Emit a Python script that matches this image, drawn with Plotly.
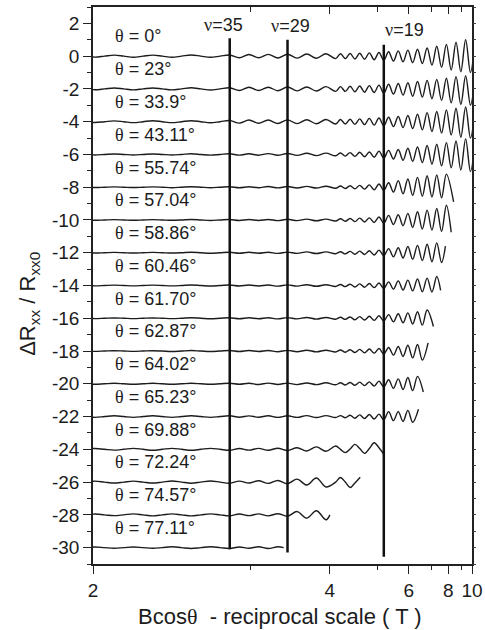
import plotly.graph_objects as go

# filling factor x Bcos(theta) in tesla (read from the nu = 35 / 29 / 19 markers)
NU_B = 98.4

THETA = ["0", "23", "33.9", "43.11", "55.74", "57.04", "58.86", "60.46",
         "61.70", "62.87", "64.02", "65.23", "69.88", "72.24", "74.57", "77.11"]
OFFSET = [0, -2, -4, -6, -8, -10, -12, -14, -16, -18, -20, -22, -24, -26, -28, -30]

# filling factors at which the curve extrema were read
NU_GRID = [50, 49, 48, 47, 46, 45, 44, 43, 42, 41, 40, 39, 38, 37, 36, 35,
           34, 33, 32, 31, 30, 29, 28, 27, 26, 25, 24,
           23.5, 23, 22.5, 22, 21.5, 21, 20.5, 20, 19.5, 19, 18.5, 18, 17.5, 17,
           16.5, 16, 15.5, 15, 14.5, 14, 13.5, 13, 12.5, 12, 11.5, 11, 10.5, 10, 9.5]

# deviation of dRxx/Rxx0 from each curve's offset, read at NU_GRID
DEV_0 = ([0, -0.06, 0, 0.06, 0, -0.07, 0, 0.06, 0, -0.07, 0, 0.07, 0, -0.07, 0, 0.07]
         + [-0.1, 0.1, -0.1, 0.11, -0.11, 0.12, -0.12, 0.13, -0.13, 0.15, -0.15]
         + [0.15, -0.15, 0.16, -0.17, 0.18, -0.19, 0.2, -0.22, 0.22, -0.25, 0.27, -0.3, 0.32, -0.35,
            0.37, -0.4, 0.42, -0.45, 0.5, -0.55, 0.6, -0.68, 0.72, -0.85, 0.85, -0.95, 1.0, -1.0, 1.2])
DEV_23 = ([0, -0.05, 0, 0.06, 0, -0.06, 0, 0.06, 0, -0.06, 0, 0.07, 0, -0.07, 0, 0.07]
          + [-0.1, 0.1, -0.1, 0.1, -0.11, 0.12, -0.12, 0.12, -0.13, 0.14, -0.15]
          + [0.14, -0.15, 0.16, -0.17, 0.18, -0.2, 0.2, -0.22, 0.23, -0.26, 0.28, -0.32, 0.33, -0.38,
             0.38, -0.45, 0.45, -0.5, 0.52, -0.6, 0.58, -0.7, 0.65, -0.85, 0.75, -0.95, 0.8, -1.0, 0.9])
DEV_33 = ([0, -0.05, 0, 0.05, 0, -0.06, 0, 0.06, 0, -0.06, 0, 0.06, 0, -0.07, 0, 0.07]
          + [-0.09, 0.1, -0.1, 0.1, -0.11, 0.11, -0.12, 0.12, -0.13, 0.13, -0.14]
          + [0.13, -0.14, 0.15, -0.16, 0.17, -0.18, 0.2, -0.21, 0.22, -0.25, 0.27, -0.3, 0.32, -0.36,
             0.38, -0.42, 0.45, -0.5, 0.55, -0.6, 0.62, -0.7, 0.72, -0.82, 0.82, -0.95, 0.9, -1.0, 1.0])
DEV_43 = ([0, -0.03, 0, 0.03, 0, -0.03, 0, 0.03, 0, -0.03, 0, 0.04, 0, -0.04, 0, 0.04]
          + [-0.04, 0.04, -0.05, 0.05, -0.05, 0.06, -0.06, 0.07, -0.07, 0.08, -0.08]
          + [0.09, -0.1, 0.11, -0.12, 0.13, -0.14, 0.15, -0.17, 0.2, -0.22, 0.25, -0.28, 0.3, -0.35,
             0.38, -0.42, 0.45, -0.5, 0.55, -0.6, 0.62, -0.7, 0.72, -0.82, 0.82, -0.95, 0.95, -1.05, 1.0])
DEV_55 = ([0, -0.02, 0, 0.02, 0, -0.02, 0, 0.02, 0, -0.03, 0, 0.03, 0, -0.03, 0, 0.03]
          + [-0.03, 0.03, -0.03, 0.04, -0.04, 0.04, -0.05, 0.05, -0.05, 0.06, -0.06]
          + [0.07, -0.08, 0.09, -0.1, 0.11, -0.12, 0.14, -0.16, 0.2, -0.2, 0.27, -0.3, 0.4, -0.4,
             0.5, -0.5, 0.6, -0.55, 0.7, -0.6, 0.75, -0.65, 0.8])
DEV_57 = ([0, -0.02, 0, 0.02, 0, -0.02, 0, 0.02, 0, -0.02, 0, 0.03, 0, -0.03, 0, 0.03]
          + [-0.03, 0.03, -0.03, 0.03, -0.04, 0.04, -0.04, 0.05, -0.05, 0.05, -0.06]
          + [0.07, -0.08, 0.09, -0.1, 0.11, -0.12, 0.13, -0.15, 0.18, -0.2, 0.28, -0.28, 0.32, -0.35,
             0.4, -0.45, 0.5, -0.55, 0.6, -0.62, 0.7, -0.7, 0.9, -0.75])
DEV_58 = ([0, -0.02, 0, 0.02, 0, -0.02, 0, 0.02, 0, -0.02, 0, 0.03, 0, -0.03, 0, 0.03]
          + [-0.03, 0.03, -0.03, 0.03, -0.04, 0.04, -0.04, 0.05, -0.05, 0.05, -0.06]
          + [0.06, -0.07, 0.08, -0.09, 0.1, -0.11, 0.12, -0.14, 0.16, -0.18, 0.25, -0.25, 0.3, -0.32,
             0.38, -0.4, 0.45, -0.48, 0.52, -0.55, 0.6, -0.6])
DEV_60 = ([0, -0.02, 0, 0.02, 0, -0.02, 0, 0.02, 0, -0.02, 0, 0.03, 0, -0.03, 0, 0.03]
          + [-0.03, 0.03, -0.03, 0.03, -0.04, 0.04, -0.04, 0.05, -0.05, 0.05, -0.06]
          + [0.06, -0.07, 0.08, -0.09, 0.1, -0.11, 0.12, -0.13, 0.15, -0.18, 0.22, -0.22, 0.28, -0.28,
             0.33, -0.33, 0.4, -0.38, 0.45, -0.4, 0.55])
DEV_61 = ([0, -0.02, 0, 0.02, 0, -0.02, 0, 0.02, 0, -0.02, 0, 0.03, 0, -0.03, 0, 0.03]
          + [-0.03, 0.03, -0.03, 0.03, -0.04, 0.04, -0.04, 0.05, -0.05, 0.05, -0.06]
          + [0.06, -0.07, 0.08, -0.09, 0.1, -0.11, 0.12, -0.13, 0.15, -0.17, 0.22, -0.22, 0.28, -0.28,
             0.33, -0.35, 0.4, -0.42, 0.5])
DEV_62 = ([0, -0.02, 0, 0.02, 0, -0.02, 0, 0.02, 0, -0.03, 0, 0.03, 0, -0.03, 0, 0.03]
          + [-0.03, 0.03, -0.03, 0.03, -0.04, 0.04, -0.04, 0.05, -0.05, 0.05, -0.06]
          + [0.06, -0.07, 0.08, -0.09, 0.1, -0.11, 0.12, -0.13, 0.15, -0.18, 0.22, -0.25, 0.28, -0.33,
             0.35, -0.42, 0.4, -0.55])
DEV_64 = ([0, -0.03, 0, 0.03, 0, -0.03, 0, 0.03, 0, -0.03, 0, 0.03, 0, -0.03, 0, 0.03]
          + [-0.03, 0.03, -0.04, 0.04, -0.04, 0.04, -0.05, 0.05, -0.05, 0.06, -0.06]
          + [0.06, -0.07, 0.08, -0.09, 0.1, -0.11, 0.12, -0.14, 0.16, -0.2, 0.25, -0.28, 0.3, -0.35,
             0.38, -0.42, 0.45])
DEV_65 = ([0, -0.05, 0, 0.05, 0, -0.05, 0, 0.05, 0, -0.05, 0, 0.05, 0, -0.05, 0, 0.05]
          + [-0.04, 0.04, -0.04, 0.05, -0.05, 0.05, -0.05, 0.06, -0.06, 0.06, -0.06]
          + [0.06, -0.07, 0.08, -0.1, 0.1, -0.12, 0.13, -0.15, 0.15, -0.2, 0.3, -0.25, 0.3, -0.3,
             0.38, -0.35])
DEV_69 = ([0, 0.05, 0, -0.05, 0, 0.06, 0, -0.06, 0, 0.06, 0, -0.06, 0, 0.06, 0, -0.06]
          + [0.05, -0.05, 0.06, -0.06, 0.07, -0.07, 0.1, -0.1, 0.15, -0.12, 0.2]
          + [0.0, -0.2, 0.02, 0.3, 0.05, -0.25, 0.05, 0.4, 0.1, -0.3])
DEV_72 = ([0, 0.06, 0, -0.06, 0, 0.06, 0, -0.06, 0, 0.07, 0, -0.07, 0, 0.07, 0, -0.07]
          + [0.06, -0.06, 0.08, -0.08, 0.1, -0.1, 0.18, -0.18, 0.25, -0.3, 0.0]
          + [0.28, 0.0, -0.33, -0.05])
DEV_74 = ([0, 0.05, 0, -0.05, 0, 0.06, 0, -0.06, 0, 0.06, 0, -0.06, 0, 0.06, 0, -0.06]
          + [0.05, -0.05, 0.06, -0.06, 0.07, -0.08, 0.2, -0.2, 0.25, -0.3])
DEV_77 = ([0, 0.04, 0, -0.04, 0, 0.04, 0, -0.04, 0, 0.05, 0, -0.05, 0, 0.05, 0, -0.05]
          + [0.04, -0.04, 0.05, -0.05, 0.05])

DEVS = [DEV_0, DEV_23, DEV_33, DEV_43, DEV_55, DEV_57, DEV_58, DEV_60,
        DEV_61, DEV_62, DEV_64, DEV_65, DEV_69, DEV_72, DEV_74, DEV_77]

# last point of each sweep (filling factor, deviation), None = runs past the axis
END_NU = [None, None, None, None, 11.75, None, 12.6, 13.1, 13.85, 14.4, 14.9, 15.4, None, 21.45, 24.6, 29.4]
END_DEV = [None, None, None, None, -0.9, None, 0.4, -0.3, -0.5, 0.5, -0.5, 0.45, None, 0.3, 0.0, 0.0]

NU_LINES = [35, 29, 19]

B_MAJOR = [2, 4, 6, 8, 10]
B_MINOR = [3, 5, 7, 9]
Y_TICKS = list(range(2, -31, -2))
Y_ALL = list(range(3, -32, -1))

FONT = "Liberation Sans, Arial, sans-serif"
SERIF = "Liberation Serif"
INK = "#1c1c1c"


def sym(ch):
    return "<span style='font-family:%s'>%s</span>" % (SERIF, ch)


fig = go.Figure()

for off, dev, enu, edev in zip(OFFSET, DEVS, END_NU, END_DEV):
    xs = NU_GRID[:len(dev)]
    ys = [off + d for d in dev]
    if enu is not None:
        xs = xs + [enu]
        ys = ys + [off + edev]
    fig.add_trace(go.Scatter(x=xs, y=ys, mode="lines",
                             line=dict(color=INK, width=1.4, shape="spline", smoothing=1.0),
                             showlegend=False, hoverinfo="skip"))

# helper traces so the top / right tick axes are drawn
fig.add_trace(go.Scatter(x=[], y=[], xaxis="x2", yaxis="y", showlegend=False, hoverinfo="skip"))
fig.add_trace(go.Scatter(x=[], y=[], xaxis="x", yaxis="y2", showlegend=False, hoverinfo="skip"))

# nu markers
line_top = [1.1, 1.0, 0.7]
line_bot = [-30.1, -30.3, -30.55]
lab_y = [1.9, 1.85, 1.6]
lab_shift = [-6, 3, -1]
lab_anchor = ["center", "center", "left"]
for nu, yt, yb, ly, sh, an in zip(NU_LINES, line_top, line_bot, lab_y, lab_shift, lab_anchor):
    fig.add_shape(type="line", xref="x", yref="y", x0=nu, x1=nu, y0=yb, y1=yt,
                  line=dict(color="#111111", width=2.5))
    fig.add_annotation(x=nu, y=ly, xref="x", yref="y", text=sym("ν") + "=%d" % nu,
                       showarrow=False, xanchor=an, yanchor="middle", xshift=sh,
                       font=dict(family=FONT, size=18, color=INK))

# angle labels
for th, off in zip(THETA, OFFSET):
    fig.add_annotation(x=0.053, y=off + 1.2, xref="paper", yref="y",
                       text=sym("θ") + " = " + th + "°", showarrow=False,
                       xanchor="left", yanchor="middle",
                       font=dict(family=FONT, size=18, color=INK))

# axis titles
fig.add_annotation(x=-0.169, y=0.467, xref="paper", yref="paper",
                   text="ΔR<sub>xx</sub> / R<sub>xx0</sub>", textangle=-90,
                   showarrow=False, xanchor="center", yanchor="middle",
                   font=dict(family=FONT, size=22, color=INK))
fig.add_annotation(x=0.493, y=-0.094, xref="paper", yref="paper",
                   text="Bcos" + sym("θ") + "\u00a0 - reciprocal scale ( T )",
                   showarrow=False, xanchor="center", yanchor="middle",
                   font=dict(family=FONT, size=22, color=INK))

xr = [NU_B / B_MAJOR[0], NU_B / B_MAJOR[-1]]
yr = [-31, 3]
major_x = [NU_B / b for b in B_MAJOR]
minor_x = [NU_B / b for b in B_MINOR]

fig.update_layout(
    template="none",
    width=485, height=630,
    margin=dict(l=93, r=13, t=7, b=66, autoexpand=False),
    paper_bgcolor="white", plot_bgcolor="white",
    font=dict(family=FONT, color=INK),
    xaxis=dict(range=xr, tickmode="array", tickvals=major_x, ticktext=[str(b) for b in B_MAJOR],
               ticks="outside", ticklen=8, tickwidth=1.3, tickcolor="#222", automargin=False,
               minor=dict(tickmode="array", tickvals=minor_x, ticks="outside", ticklen=4,
                          tickwidth=1.3, tickcolor="#222", showgrid=False),
               showline=True, linecolor="#222", linewidth=1.5, mirror=True,
               showgrid=False, zeroline=False, tickfont=dict(size=19, family=FONT, color=INK)),
    xaxis2=dict(range=xr, overlaying="x", side="top", anchor="y", tickmode="array",
                tickvals=major_x, ticks="inside", ticklen=7, tickwidth=1.3, tickcolor="#222",
                automargin=False,
                minor=dict(tickmode="array", tickvals=minor_x, ticks="inside", ticklen=5,
                           tickwidth=1.3, tickcolor="#222", showgrid=False),
                showticklabels=False, showgrid=False, zeroline=False, showline=False),
    yaxis=dict(range=yr, tickmode="array", tickvals=Y_TICKS, ticktext=[str(v) for v in Y_TICKS],
               ticks="outside", ticklen=8, tickwidth=1.3, tickcolor="#222", automargin=False,
               minor=dict(dtick=1, tick0=0, ticks="outside", ticklen=4, tickwidth=1.3,
                          tickcolor="#222", showgrid=False),
               showline=True, linecolor="#222", linewidth=1.5, mirror=True,
               showgrid=False, zeroline=False, tickfont=dict(size=19, family=FONT, color=INK)),
    yaxis2=dict(range=yr, overlaying="y", side="right", anchor="x", tickmode="array",
                tickvals=Y_ALL, ticks="outside", ticklen=3, tickwidth=1.3, tickcolor="#444",
                automargin=False,
                showticklabels=False, showgrid=False, zeroline=False, showline=False),
)

fig.write_html("out.html", config={"displayModeBar": False},
               post_script="document.body.style.margin='0';")
